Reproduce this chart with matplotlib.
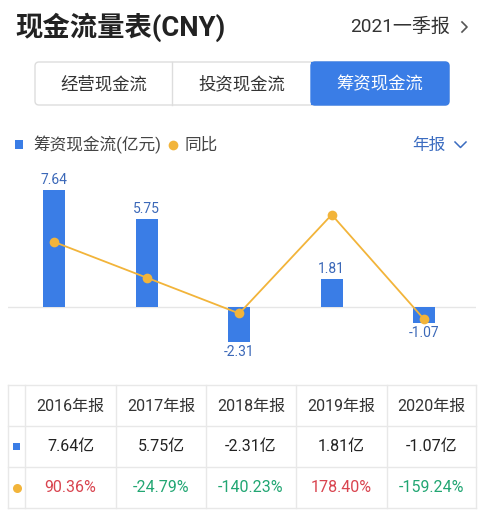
import matplotlib
matplotlib.use("Agg")
import matplotlib.pyplot as plt
from matplotlib.patches import FancyBboxPatch, Rectangle

plt.rcParams['font.family'] = ['Roboto', 'Noto Sans CJK SC', 'DejaVu Sans']

# data
periods = ['2016年报', '2017年报', '2018年报', '2019年报', '2020年报']
cash_flow = [7.64, 5.75, -2.31, 1.81, -1.07]      # 亿元
yoy = [90.36, -24.79, -140.23, 178.40, -159.24]   # %
tabs = ['经营现金流', '投资现金流', '筹资现金流']

BLUE = '#3a7de6'
LABEL_BLUE = '#3b68b8'
ORANGE = '#f2b43a'
RED = '#d9444f'
GREEN = '#22a673'
GRID = '#e6e6e6'
W, H = 488, 518

fig = plt.figure(figsize=(W / 100, H / 100), dpi=100)
fig.patch.set_facecolor('white')

# pixel-space canvas for header, tabs, legend and table
ui = fig.add_axes([0, 0, 1, 1])
ui.set_xlim(0, W)
ui.set_ylim(H, 0)
ui.axis('off')

# header
ui.text(15, 27, '现金流量表(CNY)', fontsize=19.7, fontweight='bold', color='#222222',
        va='center', ha='left')
ui.text(350, 27, '2021一季报', fontsize=13.7, color='#333333', va='center', ha='left')
ui.plot([462, 467, 462], [22, 27, 32], color='#555555', lw=1.2)

# tabs
ui.add_patch(FancyBboxPatch((35, 62), 414, 43, boxstyle='round,pad=0,rounding_size=4',
                            fc='white', ec='#dddddd', lw=1))
ui.add_patch(FancyBboxPatch((311, 62), 138, 43, boxstyle='round,pad=0,rounding_size=4',
                            fc=BLUE, ec=BLUE, lw=1))
ui.add_patch(Rectangle((311, 62), 10, 43, fc=BLUE, ec='none'))
ui.plot([172, 172], [62, 105], color='#dddddd', lw=1)
tab_x = [103.5, 241.5, 380]
for i, t in enumerate(tabs):
    ui.text(tab_x[i], 84, t, fontsize=12.5, va='center', ha='center',
            color='white' if i == 2 else '#333333')

# legend
ui.add_patch(Rectangle((15, 140), 8, 9, fc=BLUE, ec='none'))
ui.text(33, 145, '筹资现金流(亿元)', fontsize=12, color='#444444', va='center', ha='left')
ui.plot([173], [145], 'o', color=ORANGE, ms=7, mec='none')
ui.text(185, 145, '同比', fontsize=12, color='#444444', va='center', ha='left')
ui.text(412, 145, '年报', fontsize=12, color='#3b6cc0', va='center', ha='left')
ui.plot([455, 460.5, 466], [142, 147.5, 142], color='#3b6cc0', lw=1.1)

# table
col_lines = [8, 25, 116, 206, 296, 387, 476]
row_lines = [385, 426, 467, 508]
for x in col_lines:
    ui.plot([x, x], [row_lines[0], row_lines[-1]], color='#e8e8e8', lw=1)
for y in row_lines:
    ui.plot([col_lines[0], col_lines[-1]], [y, y], color='#e8e8e8', lw=1)
row_y = [406, 447, 488]
ui.add_patch(Rectangle((13, 443), 7, 7, fc=BLUE, ec='none'))
ui.plot([16.5], [488], 'o', color=ORANGE, ms=6.5, mec='none')
for i in range(len(periods)):
    cx = (col_lines[i + 1] + col_lines[i + 2]) / 2
    ui.text(cx, row_y[0], periods[i], fontsize=11.5, color='#333333', ha='center', va='center')
    ui.text(cx, row_y[1], f'{cash_flow[i]:.2f}亿', fontsize=11.5, color='#222222',
            ha='center', va='center')
    ui.text(cx, row_y[2], f'{yoy[i]:.2f}%', fontsize=11.5,
            color=RED if yoy[i] > 0 else GREEN, ha='center', va='center')

# chart area: pixels x 8..476, y 170..370
ax = fig.add_axes([8 / W, (H - 370) / H, 468 / W, 200 / H])
ax.patch.set_alpha(0)
x = list(range(len(periods)))
ax.bar(x, cash_flow, width=0.24, color=BLUE, zorder=2)
ax.axhline(0, color=GRID, lw=1, zorder=1)
ax.set_xlim(-0.5, 4.56)
ax.set_ylim(-4.12, 8.95)
for xi, v in zip(x, cash_flow):
    ax.annotate(f'{v:.2f}', (xi, v), xytext=(0, 2 if v > 0 else -2), textcoords='offset points',
                ha='center', va='bottom' if v > 0 else 'top', fontsize=10, color=LABEL_BLUE)
ax.axis('off')

ax2 = ax.twinx()
ax2.plot(x, yoy, color=ORANGE, lw=1.3, marker='o', ms=7, mec='none', zorder=3)
ax2.set_ylim(-322.6, 322.6)
ax2.axis('off')

fig.savefig('out.png', dpi=100)
